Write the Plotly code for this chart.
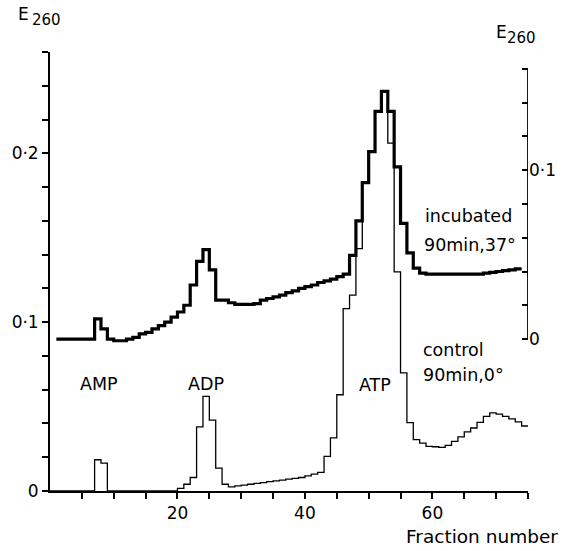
import plotly.graph_objects as go

# Fraction-by-fraction E260 readings (each value holds for fraction k .. k+1)
control_start = 0
control_e260 = [
    0, 0, 0, 0, 0, 0, 0,                      # 0-6
    0.0185, 0.0165,                           # 7-8   AMP
    0, 0, 0, 0, 0, 0, 0, 0, 0, 0, 0,          # 9-19
    0.0016, 0.004, 0.008, 0.038, 0.056,       # 20-24 ADP
    0.042, 0.0135, 0.004, 0.0025, 0.003,      # 25-29
    0.0035, 0.004, 0.0045, 0.005, 0.0055,     # 30-34
    0.006, 0.0065, 0.007, 0.0075, 0.008,      # 35-39
    0.009, 0.010, 0.011, 0.0205, 0.0315,      # 40-44
    0.057, 0.108, 0.116, 0.1435, 0.1826,      # 45-49 ATP
    0.201, 0.2248, 0.2367, 0.206, 0.1298,     # 50-54
    0.070, 0.0405, 0.0304, 0.0284, 0.0264,    # 55-59
    0.0262, 0.0258, 0.027, 0.0294, 0.032,     # 60-64
    0.035, 0.0373, 0.0407, 0.0442, 0.0463,    # 65-69
    0.0455, 0.0442, 0.0427, 0.0409, 0.0385,   # 70-74
]

# Incubated sample, read on the right-hand E260 scale
incubated_start = 1
incubated_e260 = [
    0.000, 0.000, 0.000, 0.000, 0.000, 0.000,  # 1-6
    0.012, 0.006, 0.000, -0.001, -0.001,       # 7-11
    0.000, 0.001, 0.003, 0.004, 0.006,         # 12-16
    0.008, 0.010, 0.013, 0.016, 0.020,         # 17-21
    0.032, 0.046, 0.053, 0.041, 0.023,         # 22-26
    0.023, 0.0215, 0.0205, 0.0205, 0.0205,     # 27-31
    0.021, 0.023, 0.024, 0.025, 0.026,         # 32-36
    0.0275, 0.0285, 0.030, 0.031, 0.032,       # 37-41
    0.0335, 0.0345, 0.0355, 0.037, 0.0385,     # 42-46
    0.0495, 0.070, 0.0926, 0.111, 0.1348,      # 47-51
    0.1467, 0.1348, 0.102, 0.0685, 0.051,      # 52-56
    0.042, 0.039, 0.0385, 0.0385, 0.0385,      # 57-61
    0.0385, 0.0385, 0.0385, 0.0385, 0.0385,    # 62-66
    0.0385, 0.039, 0.0395, 0.040, 0.0405,      # 67-71
    0.041, 0.0415,                             # 72-73
]

# Axis ticks
x_ticks = list(range(5, 76, 5))
x_labels = {20: "20", 40: "40", 60: "60"}
left_ticks = [round(0.02 * i, 2) for i in range(14)]
left_labels = {0.0: "0", 0.1: "0·1", 0.2: "0·2"}
right_ticks = [round(0.02 * i, 2) for i in range(9)]
right_labels = {0.0: "0", 0.1: "0·1"}

# Offset of the right scale against the left one
right_offset = 0.09
left_range = [0, 0.26]


def steps(start, values):
    xs = [start + i for i in range(len(values) + 1)]
    ys = list(values) + [values[-1]]
    return xs, ys


FONT = "DejaVu Sans"

fig = go.Figure()

cx, cy = steps(control_start, control_e260)
fig.add_trace(go.Scatter(x=cx, y=cy, mode="lines", line_shape="hv",
                         line=dict(color="black", width=1.3),
                         yaxis="y", showlegend=False, hoverinfo="skip"))

ix, iy = steps(incubated_start, incubated_e260)
fig.add_trace(go.Scatter(x=ix, y=iy, mode="lines", line_shape="hv",
                         line=dict(color="black", width=3.2),
                         yaxis="y2", showlegend=False, hoverinfo="skip"))

fig.update_layout(
    width=568, height=551,
    margin=dict(l=44, r=31, t=52, b=60),
    paper_bgcolor="white", plot_bgcolor="white",
    font=dict(family=FONT, size=16, color="black"),
    xaxis=dict(range=[0, 75], showgrid=False, zeroline=False,
               showline=True, linecolor="black", linewidth=1.8,
               ticks="outside", ticklen=6, tickwidth=1.6, tickcolor="black",
               tickvals=x_ticks,
               ticktext=[x_labels.get(t, "") for t in x_ticks],
               tickfont=dict(size=17)),
    yaxis=dict(range=left_range, showgrid=False, zeroline=False,
               showline=True, linecolor="black", linewidth=1.8,
               ticks="outside", ticklen=6, tickwidth=1.6, tickcolor="black",
               tickvals=left_ticks,
               ticktext=[left_labels.get(t, "") for t in left_ticks],
               tickfont=dict(size=17)),
    yaxis2=dict(range=[left_range[0] - right_offset, left_range[1] - right_offset],
                overlaying="y", side="right", showgrid=False, zeroline=False,
                showline=False,
                ticks="inside", ticklen=6, tickwidth=1.6, tickcolor="black",
                tickvals=right_ticks,
                ticktext=[right_labels.get(t, "") for t in right_ticks],
                tickfont=dict(size=17)),
)

# Right-hand axis line only spans its own 0 .. 0.16 scale
fig.add_shape(type="line", xref="x", yref="y2",
              x0=75, x1=75, y0=0, y1=right_ticks[-1],
              line=dict(color="black", width=1.8))

# Peak and curve labels
labels = [
    ("AMP", 7.7, 0.0636, "center"),
    ("ADP", 24.5, 0.0636, "center"),
    ("ATP", 51.0, 0.063, "center"),
    ("control", 58.2, 0.0838, "left"),
    ("90min,0°", 58.2, 0.0689, "left"),
    ("incubated", 58.6, 0.1628, "left"),
    ("90min,37°", 58.4, 0.1456, "left"),
]
for text, x, y, anchor in labels:
    fig.add_annotation(text=text, x=x, y=y, xref="x", yref="y",
                       xanchor=anchor, yanchor="middle", showarrow=False,
                       font=dict(family=FONT, size=17.5, color="black"))


def px_to_paper(px, py):
    return (px - 44) / 493.0, (491 - py) / 439.0


# Axis titles: E with a lowered 260
for text, px, py, size in [("E", 9, 14, 17), ("260", 23, 20, 15),
                           ("E", 502, 32, 17), ("260", 513, 38, 15),
                           ("Fraction number", 409, 536, 18.5)]:
    xp, yp = px_to_paper(px, py)
    fig.add_annotation(text=text, x=xp, y=yp, xref="paper", yref="paper",
                       xanchor="left", yanchor="middle", showarrow=False,
                       font=dict(family=FONT, size=size, color="black"))

fig.write_html("out.html")
